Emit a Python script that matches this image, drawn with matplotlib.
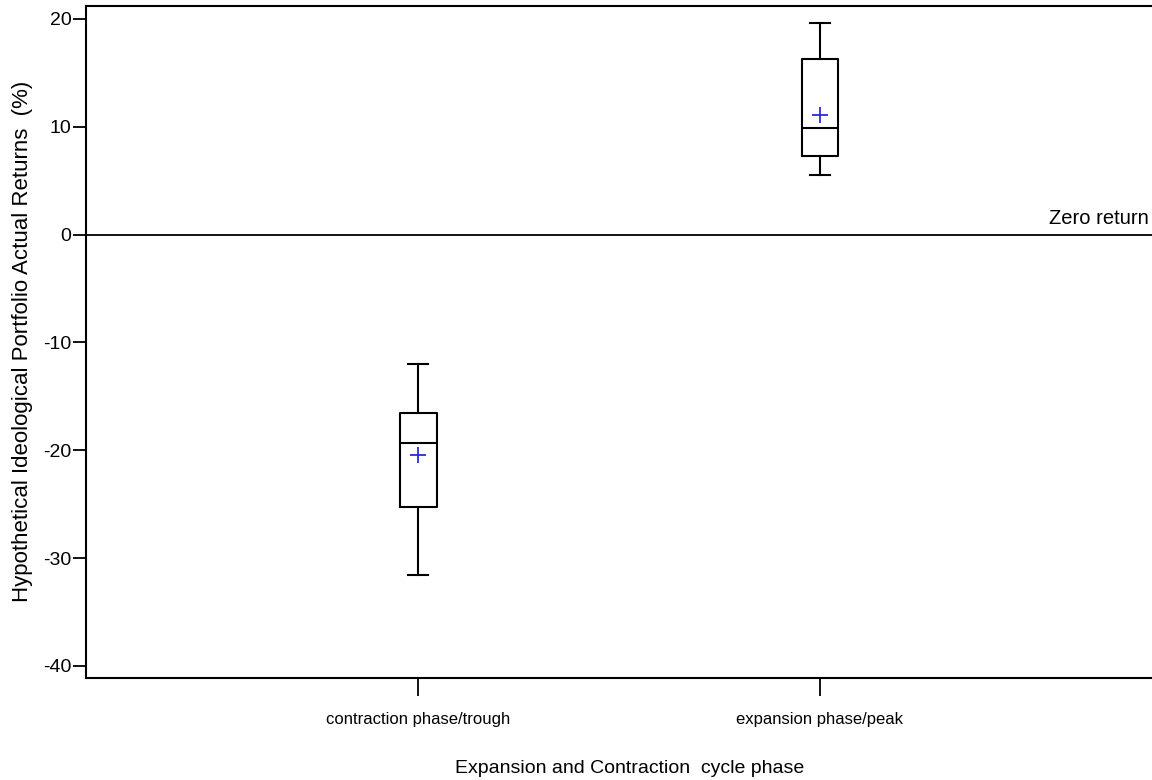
import matplotlib.pyplot as plt

plt.rcParams['font.family'] = ['Liberation Sans', 'DejaVu Sans']
plt.rcParams['axes.unicode_minus'] = False

# summary stats
phases = ['contraction phase/trough', 'expansion phase/peak']
whisker_low = [-31.6, 5.5]
q1 = [-25.3, 7.3]
median = [-19.3, 9.9]
q3 = [-16.5, 16.3]
whisker_high = [-12.0, 19.6]
mean = [-20.4, 11.1]

stats = []
for i in range(len(phases)):
    stats.append({'label': phases[i], 'whislo': whisker_low[i], 'q1': q1[i],
                  'med': median[i], 'q3': q3[i], 'whishi': whisker_high[i],
                  'mean': mean[i], 'fliers': []})

fig = plt.figure(figsize=(11.52, 7.8), dpi=100)
ax = fig.add_axes([0.0747, 0.1314, 0.9253, 0.8609])

line = dict(color='black', linewidth=1.5)
ax.bxp(stats, positions=[1, 2], widths=0.092, showmeans=True,
       boxprops=line, whiskerprops=line, capprops=line, medianprops=line,
       meanprops=dict(marker='+', markeredgecolor='#2b2bdd', markersize=11,
                      markeredgewidth=1.3),
       capwidths=0.05)

ax.axhline(0, color='black', linewidth=1.3)
ax.text(0.997, 0.6, 'Zero return', transform=ax.get_yaxis_transform(),
        ha='right', va='bottom', fontsize=14.5)

ax.set_xlim(0.174, 2.826)
ax.set_ylim(-41.07, 21.2)
ax.set_yticks([-40, -30, -20, -10, 0, 10, 20])
ax.set_xticks([1, 2])
ax.set_xticklabels(phases)

ax.spines['right'].set_visible(False)
for s in ['left', 'top', 'bottom']:
    ax.spines[s].set_linewidth(1.5)

ax.tick_params(axis='y', length=9.5, width=1.3, labelsize=14, pad=1)
ax.tick_params(axis='x', length=13, width=1.3, labelsize=12, pad=12)

ax.set_xlabel('Expansion and Contraction  cycle phase', fontsize=14)
ax.xaxis.set_label_coords(0.51, -0.123)
ax.set_ylabel('Hypothetical Ideological Portfolio Actual Returns  (%)',
              fontsize=16)
ax.yaxis.set_label_coords(-0.05, 0.5)

plt.savefig('out.png', dpi=100)
